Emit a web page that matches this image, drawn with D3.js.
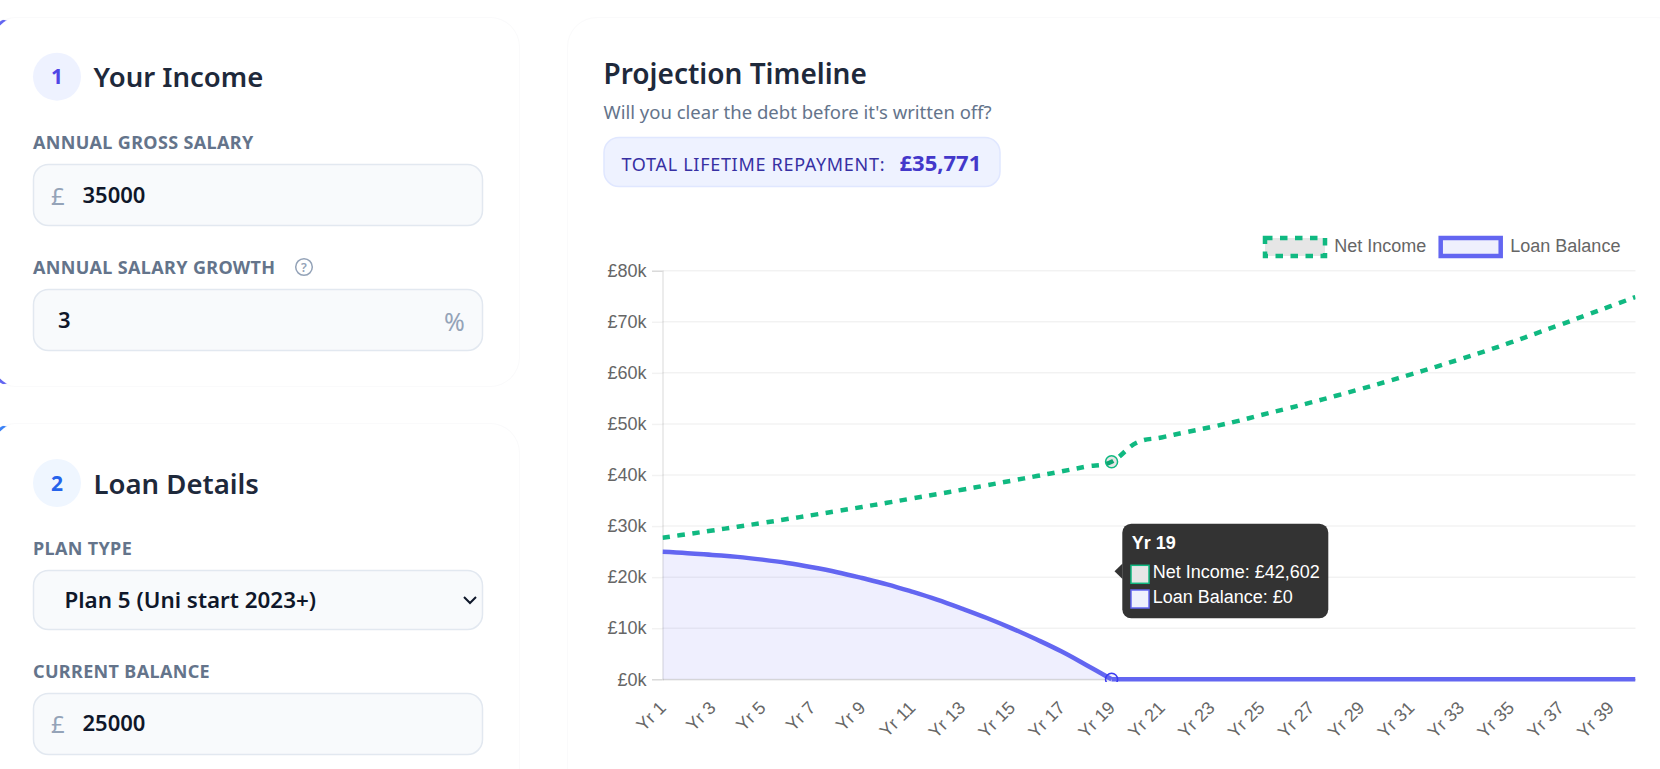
<!DOCTYPE html>
<html>
<head>
<meta charset="utf-8">
<script src="https://cdn.jsdelivr.net/npm/d3@7"></script>
<style>
  html, body { margin: 0; padding: 0; width: 1660px; height: 769px; overflow: hidden; background: #fff; }
  .card { position: absolute; box-sizing: border-box; background: #fff; border: 1.5px solid #fafafb; border-radius: 30px; }
  #card1 { left: -14px; top: 17px; width: 534px; height: 370px; border-left: 6px solid #6366f1; }
  #card2 { left: -14px; top: 423px; width: 534px; height: 400px; border-left: 6px solid #3b82f6; }
  #card3 { left: 567px; top: 17px; width: 1120px; height: 790px; }
  svg { position: absolute; left: 0; top: 0; }
  text { font-family: "Noto Sans", sans-serif; }
  .chart text { font-family: "Liberation Sans", Arial, sans-serif; }
</style>
</head>
<body>
<div class="card" id="card1"></div>
<div class="card" id="card2"></div>
<div class="card" id="card3"></div>
<svg id="page" width="1660" height="769"></svg>
<script>
let years = d3.range(1, 41).map((y) => `Yr ${y}`);
let xTickLabels = years.filter((d, i) => i % 2 === 0);
let yTickValues = [0, 10000, 20000, 30000, 40000, 50000, 60000, 70000, 80000];

let netIncome = [27720, 28420, 29135, 29865, 30610, 31370, 32145, 32935, 33740, 34560,
                 35395, 36245, 37110, 37990, 38885, 39795, 40720, 41660, 42602, 46300,
                 47350, 48400, 49400, 50500, 51750, 52950, 54210, 55515, 56865, 58260,
                 59700, 61185, 62715, 64290, 65950, 67700, 69450, 71250, 73050, 74850];
let loanBalance = [24950, 24700, 24340, 23970, 23430, 22770, 21930, 20970, 19830, 18600,
                   17160, 15600, 13850, 12000, 9980, 7780, 5420, 2750, 0, 0,
                   0, 0, 0, 0, 0, 0, 0, 0, 0, 0,
                   0, 0, 0, 0, 0, 0, 0, 0, 0, 0];

let tooltipIndex = 18;
let paidOffIndex = 18;
let green = "#10b981";
let indigo = "#6366f1";

let svg = d3.select("#page");

//helper for plain text
let label = (parent, x, y, str, size, weight, color, anchor) => parent.append("text")
    .attr("x", x)
    .attr("y", y)
    .attr("font-size", size)
    .attr("font-weight", weight)
    .attr("fill", color)
    .attr("text-anchor", anchor || "start")
    .text(str);

//fake form field box
let field = (x, y, w, h) => svg.append("rect")
    .attr("x", x + 0.5).attr("y", y + 0.5)
    .attr("width", w - 1).attr("height", h - 1)
    .attr("rx", 15)
    .attr("fill", "#f8fafc")
    .attr("stroke", "#e2e8f0")
    .attr("stroke-width", 1.5);

let sectionHead = (cy, num, title, numColor, bg) => {
    svg.append("circle").attr("cx", 57).attr("cy", cy).attr("r", 24).attr("fill", bg);
    label(svg, 57, cy + 7.5, num, 21, 700, numColor, "middle");
    label(svg, 93.5, cy + 10.5, title, 27.5, 600, "#1e293b");
}

let fieldLabel = (y, str) => label(svg, 33, y, str, 18, 700, "#64748b").attr("letter-spacing", 0.35);

//card 1
sectionHead(76.7, "1", "Your Income", "#4f46e5", "#eef2ff");
fieldLabel(149, "ANNUAL GROSS SALARY");
field(33, 164, 450, 62);
label(svg, 51, 205, "£", 24, 400, "#94a3b8");
label(svg, 82.5, 203, "35000", 22, 600, "#0f172a");
fieldLabel(274, "ANNUAL SALARY GROWTH");
svg.append("circle").attr("cx", 304).attr("cy", 267).attr("r", 8.3)
   .attr("fill", "none").attr("stroke", "#94a3b8").attr("stroke-width", 1.5);
label(svg, 304, 271.5, "?", 12.5, 600, "#94a3b8", "middle");
field(33, 289, 450, 62);
label(svg, 58, 328, "3", 22, 600, "#0f172a");
label(svg, 444, 331, "%", 25, 400, "#94a3b8");

//card 2
sectionHead(483, "2", "Loan Details", "#2563eb", "#eff6ff");
fieldLabel(555, "PLAN TYPE");
field(33, 570, 450, 60);
label(svg, 64.5, 608, "Plan 5 (Uni start 2023+)", 22.4, 600, "#0f172a");
svg.append("path").attr("d", "M464 597 L470 603 L476 597")
   .attr("fill", "none").attr("stroke", "#0f172a").attr("stroke-width", 2);
fieldLabel(677.5, "CURRENT BALANCE");
field(33, 693, 450, 62);
label(svg, 51, 733, "£", 24, 400, "#94a3b8");
label(svg, 82.5, 731, "25000", 22, 600, "#0f172a");

//right card header
label(svg, 603.5, 83.5, "Projection Timeline", 28, 600, "#1e293b");
label(svg, 603.5, 119, "Will you clear the debt before it's written off?", 18.5, 400, "#64748b");
svg.append("rect").attr("x", 604).attr("y", 137.5).attr("width", 396).attr("height", 49)
   .attr("rx", 15).attr("fill", "#eef2ff").attr("stroke", "#e0e7ff").attr("stroke-width", 1.5);
label(svg, 621.5, 171, "TOTAL LIFETIME REPAYMENT:", 18, 400, "#3730a3").attr("letter-spacing", 0.7);
label(svg, 899.5, 171, "£35,771", 22, 700, "#4338ca");

//chart
let chart = svg.append("g").attr("class", "chart");
let plotLeft = 662.5, plotRight = 1635.5, plotTop = 270.7, plotBottom = 679.3;

let xScale = d3.scalePoint().domain(years).range([plotLeft, plotRight]);
let yScale = d3.scaleLinear().domain([0, 80000]).range([plotBottom, plotTop]);

let yAxis = d3.axisLeft(yScale)
    .tickValues(yTickValues)
    .tickSize(10.5)
    .tickPadding(5.5)
    .tickFormat((d) => `£${d / 1000}k`);
let xAxis = d3.axisBottom(xScale)
    .tickValues(xTickLabels)
    .tickSize(0);

//gridlines
chart.append("g").selectAll("line")
     .data(yTickValues)
     .enter()
     .append("line")
     .attr("x1", plotLeft)
     .attr("x2", plotRight)
     .attr("y1", (d) => yScale(d))
     .attr("y2", (d) => yScale(d))
     .attr("stroke", "#000")
     .attr("stroke-opacity", 0.05)
     .attr("stroke-width", 1.5);

let yAxisG = chart.append("g").attr("transform", `translate(${plotLeft},0)`).call(yAxis);
yAxisG.select(".domain").attr("stroke", "#000").attr("stroke-opacity", 0.1).attr("stroke-width", 1.5);
yAxisG.selectAll("line").attr("stroke", "#000").attr("stroke-opacity", 0.05).attr("stroke-width", 1.5);
yAxisG.selectAll("text").attr("font-size", 18).attr("font-family", "Liberation Sans").attr("fill", "#666");

let xAxisG = chart.append("g").attr("transform", `translate(0,${plotBottom})`).call(xAxis);
xAxisG.select(".domain").attr("stroke", "#000").attr("stroke-opacity", 0.1).attr("stroke-width", 1.5);
xAxisG.selectAll("text")
      .attr("font-size", 18)
      .attr("font-family", "Liberation Sans")
      .attr("fill", "#666")
      .attr("text-anchor", "end")
      .attr("x", 0)
      .attr("y", 0)
      .attr("dy", 0)
      .attr("transform", "translate(4,29.5) rotate(-45)");

//clip like the chart area
chart.append("clipPath").attr("id", "plotClip").append("rect")
     .attr("x", plotLeft)
     .attr("y", plotTop - 2.25)
     .attr("width", plotRight - plotLeft)
     .attr("height", plotBottom - plotTop + 5);

let plot = chart.append("g").attr("clip-path", "url(#plotClip)");

let smooth = d3.curveCardinal.tension(-0.2);
let area = d3.area()
    .x((d) => xScale(d.year))
    .y0(plotBottom)
    .y1((d) => yScale(d.value))
    .curve(smooth);
let line = d3.line()
    .x((d) => xScale(d.year))
    .y((d) => yScale(d.value))
    .curve(smooth);
let flatLine = d3.line()
    .x((d) => xScale(d.year))
    .y((d) => yScale(d.value));

let toPoints = (values) => values.map((value, i) => ({ year: years[i], value: value }));
let loanPoints = toPoints(loanBalance);
let netPoints = toPoints(netIncome);

//the balance is capped at zero, so the falling part is smoothed and the rest stays flat
plot.append("path").attr("d", area(loanPoints.slice(0, paidOffIndex + 1))).attr("fill", indigo).attr("fill-opacity", 0.1);
plot.append("path")
    .attr("d", line(loanPoints.slice(0, paidOffIndex + 1)))
    .attr("fill", "none")
    .attr("stroke", indigo)
    .attr("stroke-width", 4.5);
plot.append("path")
    .attr("d", flatLine(loanPoints.slice(paidOffIndex)))
    .attr("fill", "none")
    .attr("stroke", indigo)
    .attr("stroke-width", 4.5);
plot.append("path")
    .attr("d", line(netPoints))
    .attr("fill", "none")
    .attr("stroke", green)
    .attr("stroke-width", 4.5)
    .attr("stroke-dasharray", "7.5,7.5");

//hover points
let hoverX = xScale(years[tooltipIndex]);
plot.append("circle")
    .attr("cx", hoverX).attr("cy", yScale(netIncome[tooltipIndex])).attr("r", 6)
    .attr("fill", "#000").attr("fill-opacity", 0.1)
    .attr("stroke", green).attr("stroke-width", 1.5);
plot.append("circle")
    .attr("cx", hoverX).attr("cy", yScale(loanBalance[tooltipIndex])).attr("r", 6)
    .attr("fill", indigo).attr("fill-opacity", 0.1)
    .attr("stroke", "#3b3bf0").attr("stroke-width", 1.5);

//legend
let legendItems = [
    { name: "Net Income", x: 1265, textX: 1334.3, fill: "#e6e6e6", stroke: green, dash: "7.5,7.5" },
    { name: "Loan Balance", x: 1440.7, textX: 1510.3, fill: "#eff0fd", stroke: indigo, dash: null }
];
let legendG = chart.append("g");
legendG.selectAll("rect")
       .data(legendItems)
       .enter()
       .append("rect")
       .attr("x", (d) => d.x)
       .attr("y", 238)
       .attr("width", 60)
       .attr("height", 18)
       .attr("fill", (d) => d.fill)
       .attr("stroke", (d) => d.stroke)
       .attr("stroke-width", 4.5)
       .attr("stroke-dasharray", (d) => d.dash);
legendG.selectAll("text")
       .data(legendItems)
       .enter()
       .append("text")
       .attr("x", (d) => d.textX)
       .attr("y", 252)
       .attr("font-size", 18)
       .attr("fill", "#666")
       .text((d) => d.name);

//tooltip
let tip = chart.append("g");
tip.append("path")
   .attr("d", "M1122.5 563.5 L1114.5 571.3 L1122.5 579 Z")
   .attr("fill", "#333");
tip.append("rect")
   .attr("x", 1122.3).attr("y", 523.7).attr("width", 206).attr("height", 94.6).attr("rx", 9)
   .attr("fill", "#333");
label(tip, 1131.7, 548.7, years[tooltipIndex], 18, 700, "#fff");
let swatches = [
    { y: 565.3, fill: "#e6e6e6", stroke: green, text: `Net Income: £${d3.format(",")(netIncome[tooltipIndex])}`, base: 578.3 },
    { y: 590, fill: "#eff0fd", stroke: indigo, text: `Loan Balance: £${loanBalance[tooltipIndex]}`, base: 603.3 }
];
tip.selectAll("rect.swatch")
   .data(swatches)
   .enter()
   .append("rect")
   .attr("class", "swatch")
   .attr("x", 1131)
   .attr("y", (d) => d.y)
   .attr("width", 18)
   .attr("height", 18)
   .attr("fill", (d) => d.fill)
   .attr("stroke", (d) => d.stroke)
   .attr("stroke-width", 1.5);
swatches.forEach((d) => label(tip, 1152.7, d.base, d.text, 18, 400, "#fff"));
</script>
</body>
</html>
